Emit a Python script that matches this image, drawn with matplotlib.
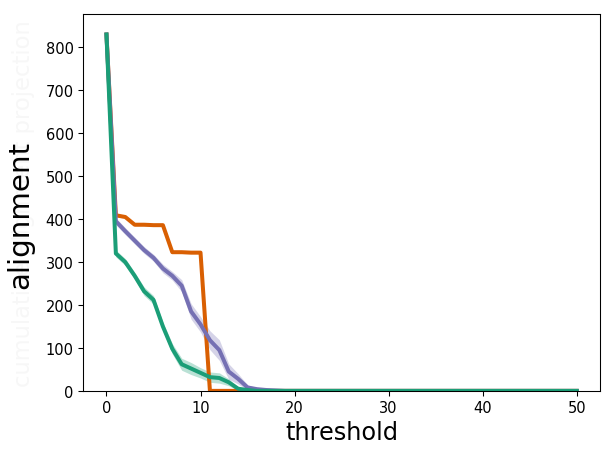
import matplotlib
matplotlib.use("Agg")
import matplotlib.pyplot as plt
import numpy as np

threshold = list(range(0, 51))

orange_vals = [830, 409, 405, 387, 387, 386, 386, 323, 323, 322, 322, 0] + [0] * 39
purple_vals = [830, 395, 372, 350, 328, 310, 285, 268, 245, 185, 155, 118, 95, 45, 28, 8, 4, 2, 1] + [0] * 32
green_vals = [830, 320, 300, 268, 232, 212, 150, 98, 62, 52, 42, 32, 30, 20, 5, 2, 0] + [0] * 34

purple_err = [5, 8, 8, 8, 8, 8, 10, 10, 14, 18, 18, 22, 24, 18, 12, 6, 3, 2, 1] + [0] * 32
green_err = [5, 8, 8, 8, 10, 10, 10, 12, 14, 14, 12, 12, 12, 8, 4, 2, 0] + [0] * 34
orange_err = [3, 4, 3, 3, 3, 3, 3, 3, 3, 3, 3, 2] + [0] * 39

series = [
    ("orange", orange_vals, orange_err, "#d95f02"),
    ("purple", purple_vals, purple_err, "#7570b3"),
    ("green", green_vals, green_err, "#1b9e77"),
]

fig = plt.figure(figsize=(6.4, 4.8), dpi=96)
ax = fig.add_axes([0.135, 0.150, 0.842, 0.817])
ax.patch.set_alpha(0)

x = np.array(threshold)
for name, vals, err, col in series:
    v = np.array(vals, dtype=float)
    e = np.array(err, dtype=float)
    ax.fill_between(x, v - e, v + e, color=col, alpha=0.3, linewidth=0)
    ax.plot(x, v, color=col, linewidth=3)

ax.set_ylim(bottom=0)
ax.set_xlabel("threshold", fontsize=18)
ax.set_ylabel("alignment", fontsize=22)
ax.yaxis.set_label_coords(-0.095, 0.47)
ax.tick_params(labelsize=11)

fig.text(0.038, 0.5585, "cumulative alignment projection", rotation=90,
         fontsize=17, color="#f7f7f7", ha="center", va="center", zorder=-5)

fig.savefig("out.png", dpi=96)
